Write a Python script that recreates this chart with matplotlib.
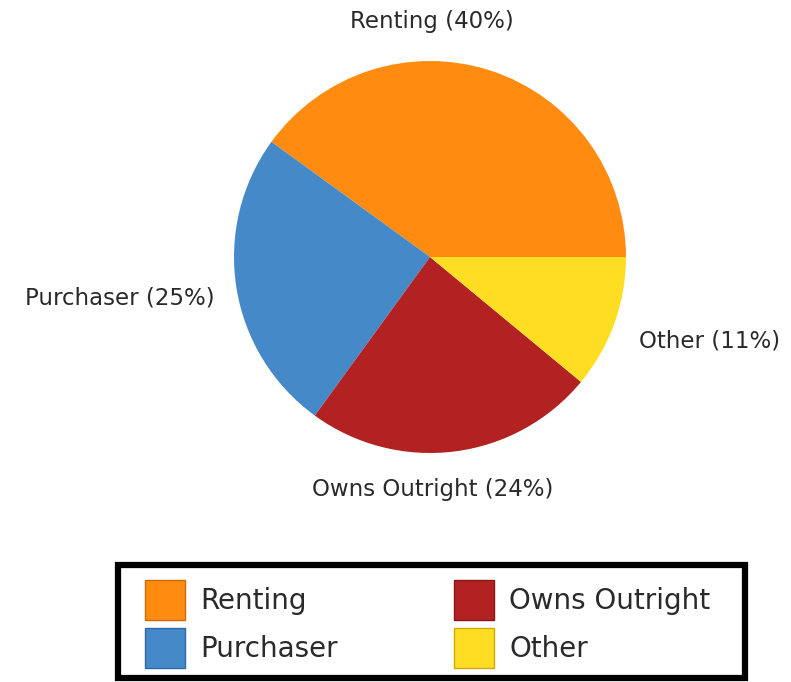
import matplotlib
matplotlib.use("Agg")
import matplotlib.pyplot as plt
from matplotlib.patches import Rectangle

# data
categories = ['Renting', 'Purchaser', 'Owns Outright', 'Other']
shares = [40, 25, 24, 11]
colors = ['#FF8C11', '#4689C8', '#B22222', '#FFDD22']
edge_colors = ['#D06A00', '#2F6AA8', '#8A1515', '#D0AA00']

# label offsets (in pie radius units) and alignment, as in the original
label_pos = [(0.01, 1.20, 'center'), (-1.097, -0.209, 'right'),
             (0.015, -1.184, 'center'), (1.066, -0.429, 'left')]

W, H = 791, 682
fig = plt.figure(figsize=(W / 100, H / 100), dpi=100)
fig.patch.set_facecolor('white')

# pie axes: center (430, 257) px, radius 196 px
cx, cy, r = 430, 257, 196
ax = fig.add_axes([(cx - r) / W, (H - cy - r) / H, 2 * r / W, 2 * r / H])

wedges, texts = ax.pie(shares, colors=colors, startangle=0, counterclock=True,
                       labels=[f'{c} ({s}%)' for c, s in zip(categories, shares)],
                       wedgeprops=dict(linewidth=0), textprops=dict(fontsize=16.5, color='#2a2a2a'))
for t, (x, y, ha) in zip(texts, label_pos):
    t.set_position((x, y))
    t.set_ha(ha)
    t.set_va('center')
ax.set_xlim(-1, 1)
ax.set_ylim(-1, 1)
ax.set_aspect('auto')

# legend frame: (118,565) to (745,678) px
lx0, ly0, lx1, ly1 = 118, 565, 745, 678
fig.patches.append(Rectangle((lx0 / W, (H - ly1) / H), (lx1 - lx0) / W, (ly1 - ly0) / H,
                             transform=fig.transFigure, fill=False, edgecolor='black',
                             linewidth=4.5, zorder=5))

fs = 20
leg = fig.legend(wedges, categories, ncol=2, loc='upper left',
                 bbox_to_anchor=(145 / W, 1 - 580 / H),
                 fontsize=fs, frameon=False, handlelength=1.44, handleheight=1.82,
                 handletextpad=0.54, labelspacing=0.3, borderpad=0, columnspacing=4.2,
                 borderaxespad=0)
for txt in leg.get_texts():
    txt.set_color('#2a2a2a')
for h, ec in zip(leg.legend_handles, edge_colors):
    h.set_edgecolor(ec)
    h.set_linewidth(1)

plt.savefig('out.png', dpi=100, facecolor='white')
plt.close()
